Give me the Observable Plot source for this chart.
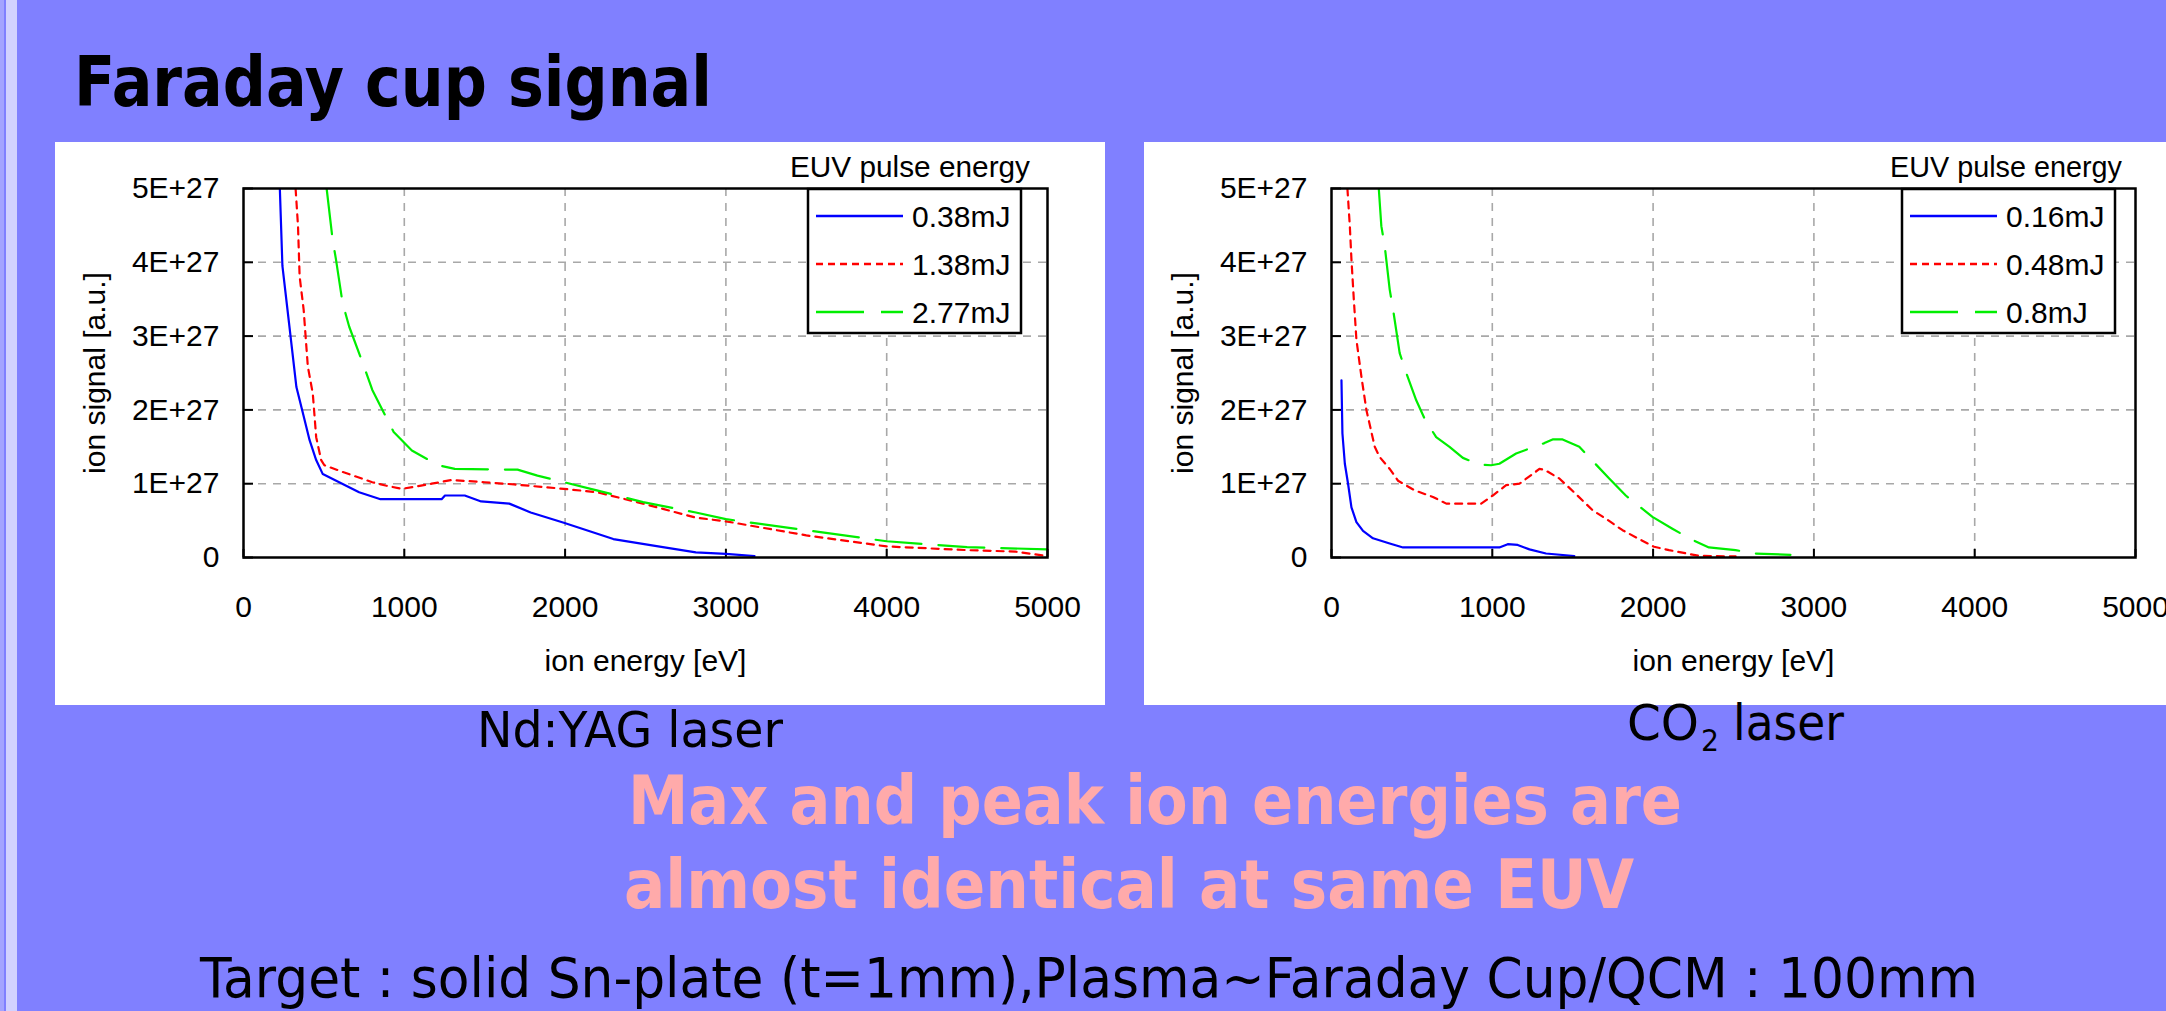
<!DOCTYPE html>
<html>
<head>
<meta charset="utf-8">
<script src="https://cdn.jsdelivr.net/npm/d3@7"></script>
<script src="https://cdn.jsdelivr.net/npm/@observablehq/plot@0.6"></script>
<style>
  html, body { margin: 0; padding: 0; width: 2166px; height: 1011px; overflow: hidden; background: #8080ff; }
  .abs { position: absolute; }
  .panel { position: absolute; background: #ffffff; }
  #left svg, #right svg { display: block; max-width: none !important; overflow: visible; background: transparent; }
</style>
</head>
<body>
<div class="abs" style="left:0;top:0;width:4px;height:1011px;background:#a4a4ff"></div>
<div class="abs" style="left:6px;top:0;width:11px;height:1011px;background:#d2d2ff"></div>
<div class="panel" style="left:55px;top:142px;width:1050px;height:563px"></div>
<div class="panel" style="left:1144px;top:142px;width:1022px;height:563px"></div>
<div id="left" class="abs" style="left:55px;top:142px;width:1050px;height:563px"></div>
<div id="right" class="abs" style="left:1144px;top:142px;width:1022px;height:563px"></div>
<svg id="overlay" class="abs" style="left:0;top:0;pointer-events:none" width="2166" height="1011"></svg>
<script>
// ---- axes ----
const xTicks = [0, 1000, 2000, 3000, 4000, 5000];
const xGrid = [1000, 2000, 3000, 4000];
const yTicks = [0, 1, 2, 3, 4, 5];            // units of 1E+27
const yTickLabels = ["0", "1E+27", "2E+27", "3E+27", "4E+27", "5E+27"];
const yGrid = [1, 2, 3, 4];
const xLabel = "ion energy [eV]";
const yLabel = "ion signal [a.u.]";
const legendTitle = "EUV pulse energy";

// ---- Nd:YAG laser (ion energy eV, ion signal in 1E+27) ----
const ndNames = ["0.38mJ", "1.38mJ", "2.77mJ"];
const ndE038 = [226,242,283,329,370,411,452,493,595,719,852,1232,1253,1376,1478,1653,1786,1992,2300,2608,2813,3000,3178];
const ndS038 = [5.0,3.95,3.18,2.31,1.95,1.59,1.32,1.13,1.02,0.885,0.79,0.79,0.84,0.84,0.76,0.73,0.61,0.47,0.25,0.14,0.07,0.05,0.02];
const ndE138 = [324,339,349,374,400,431,452,483,503,616,801,883,986,1170,1294,1499,1684,1992,2197,2485,2813,3000,3500,4000,4500,4800,5000];
const ndS138 = [5.0,4.49,3.81,3.36,2.59,2.22,1.63,1.32,1.25,1.16,1.02,0.975,0.93,1.0,1.05,1.02,0.99,0.93,0.885,0.73,0.54,0.49,0.30,0.15,0.10,0.08,0.02];
const ndE277 = [517,554,575,616,657,749,801,934,1047,1211,1314,1704,1828,1992,2197,2485,2813,3000,3500,4000,4500,5000];
const ndS277 = [5.0,4.31,4.04,3.45,3.13,2.59,2.27,1.70,1.45,1.25,1.20,1.19,1.11,1.02,0.91,0.75,0.61,0.52,0.37,0.22,0.14,0.11];

// ---- CO2 laser ----
const coNames = ["0.16mJ", "0.48mJ", "0.8mJ"];
const coE016 = [62,68,83,103,124,155,196,258,362,445,1044,1096,1158,1231,1334,1510];
const coS016 = [2.40,1.68,1.27,1.0,0.68,0.48,0.36,0.26,0.19,0.136,0.136,0.18,0.17,0.11,0.054,0.02];
const coE048 = [99,114,124,139,155,186,217,269,300,362,414,517,631,714,931,1003,1086,1169,1293,1324,1417,1520,1624,1717,1810,1913,2006,2099,2285,2513];
const coS048 = [5.0,4.49,4.04,3.49,2.95,2.45,2.0,1.50,1.36,1.20,1.04,0.91,0.82,0.73,0.73,0.84,0.98,1.0,1.20,1.19,1.07,0.86,0.64,0.51,0.37,0.25,0.145,0.10,0.023,0.014];
const coE08 = [294,310,331,362,383,424,465,527,579,651,734,817,920,993,1044,1148,1324,1375,1437,1541,1727,1830,1996,2120,2234,2347,2513,2637,2854];
const coS08 = [5.0,4.49,4.22,3.63,3.36,2.77,2.50,2.13,1.88,1.63,1.50,1.35,1.26,1.25,1.27,1.41,1.55,1.60,1.60,1.50,1.07,0.84,0.55,0.39,0.25,0.136,0.10,0.054,0.036];

const seriesColors = ["#0000ff", "#ff0000", "#00ee00"];
const seriesDash = [null, "7,6", "46,17"];

function rows(E, S) { return E.map((e, i) => ({e, s: S[i]})); }

function chart(seriesList, {marginLeft, marginRight, width}) {
  const marks = [
    Plot.gridX(xGrid, {stroke: "#a8a8a8", strokeOpacity: 1, strokeWidth: 1.6, strokeDasharray: "8,7"}),
    Plot.gridY(yGrid, {stroke: "#a8a8a8", strokeOpacity: 1, strokeWidth: 1.6, strokeDasharray: "8,7"}),
    Plot.axisX({ticks: xTicks, tickSize: -8, tickPadding: 46, tickFormat: d => String(d),
      label: xLabel, labelAnchor: "center", labelArrow: "none", labelOffset: 113, stroke: "black", strokeWidth: 2}),
    Plot.axisY({ticks: yTicks, tickSize: -10, tickPadding: 34, tickFormat: d => yTickLabels[yTicks.indexOf(d)],
      label: yLabel, labelAnchor: "center", labelArrow: "none", labelOffset: 160, stroke: "black", strokeWidth: 2})
  ];
  seriesList.forEach((d, i) => {
    marks.push(Plot.line(rows(d[0], d[1]), {x: "e", y: "s", stroke: seriesColors[i], strokeWidth: 2.2,
      strokeDasharray: seriesDash[i], clip: true}));
  });
  marks.push(Plot.frame({stroke: "black", strokeWidth: 2.5}));
  const svg = Plot.plot({
    width, height: 563,
    marginLeft, marginRight, marginTop: 46, marginBottom: 148,
    x: {domain: [0, 5000], label: xLabel, labelArrow: "none"},
    y: {domain: [0, 5], label: yLabel, labelArrow: "none"},
    style: {fontFamily: "'Liberation Sans', Arial, sans-serif", fontSize: "30px", color: "black", background: "transparent", overflow: "visible"},
    marks
  });
  return svg;
}

document.getElementById("left").appendChild(chart([[ndE038, ndS038], [ndE138, ndS138], [ndE277, ndS277]],
  {marginLeft: 188, marginRight: 58, width: 1050}));
document.getElementById("right").appendChild(chart([[coE016, coS016], [coE048, coS048], [coE08, coS08]],
  {marginLeft: 187, marginRight: 31, width: 1022}));

// ---- overlay: legends and slide texts ----
const ov = d3.select("#overlay");
function legend(x0, names, titleCx, titleLen) {
  ov.append("text").attr("x", titleCx).attr("y", 177).attr("text-anchor", "middle")
    .attr("font-family", "'Liberation Sans', Arial, sans-serif").attr("font-size", 29)
    .attr("textLength", titleLen).attr("lengthAdjust", "spacingAndGlyphs").text(legendTitle);
  ov.append("rect").attr("x", x0).attr("y", 189).attr("width", 213).attr("height", 144)
    .attr("fill", "white").attr("stroke", "black").attr("stroke-width", 2.5);
  const rowsY = [216, 264, 312];
  names.forEach((n, i) => {
    ov.append("line").attr("x1", x0 + 8).attr("x2", x0 + 95).attr("y1", rowsY[i]).attr("y2", rowsY[i])
      .attr("stroke", seriesColors[i]).attr("stroke-width", 2.4).attr("stroke-dasharray", seriesDash[i] ? (i === 1 ? "7,5" : "48,17") : null);
    ov.append("text").attr("x", x0 + 104).attr("y", rowsY[i] + 11)
      .attr("font-family", "'Liberation Sans', Arial, sans-serif").attr("font-size", 30).text(n);
  });
}
legend(808, ndNames, 910, 240);
legend(1902, coNames, 2006, 232);

function txt(s, x, y, size, len, opts = {}) {
  const t = ov.append("text").attr("x", x).attr("y", y).attr("font-size", size)
    .attr("font-family", opts.family || "'DejaVu Sans', Verdana, sans-serif")
    .attr("font-weight", opts.weight || "normal").attr("fill", opts.fill || "black")
    .attr("textLength", len).attr("lengthAdjust", "spacingAndGlyphs");
  t.text(s);
  return t;
}
txt("Faraday cup signal", 74, 106, 70, 638, {weight: "bold"});
txt("Nd:YAG laser", 477, 747, 50, 306);
txt("CO", 1627, 740, 50, 72);
txt("2", 1701, 751, 30, 18);
txt("laser", 1733, 740, 50, 111);
txt("Max and peak ion energies are", 628, 824, 68, 1054, {weight: "bold", fill: "#ffaaaa"});
txt("almost identical at same EUV", 624, 908, 68, 1010, {weight: "bold", fill: "#ffaaaa"});
txt("Target : solid Sn-plate (t=1mm),Plasma~Faraday Cup/QCM : 100mm", 200, 997, 56, 1778);
</script>
</body>
</html>
